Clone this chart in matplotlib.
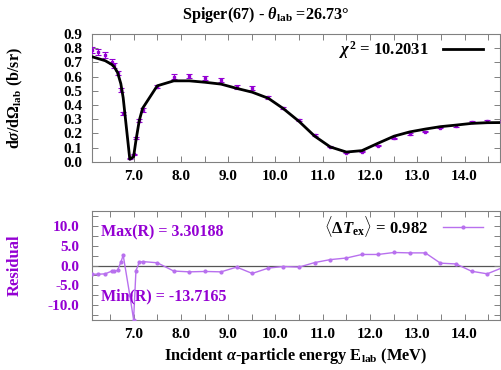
import matplotlib
matplotlib.use("Agg")
import matplotlib.pyplot as plt
from matplotlib.ticker import MultipleLocator, FormatStrFormatter

plt.rcParams['font.family'] = ['Liberation Serif', 'DejaVu Serif']
plt.rcParams['font.weight'] = 'bold'
plt.rcParams['mathtext.fontset'] = 'custom'
plt.rcParams['mathtext.rm'] = 'Liberation Serif:bold'
plt.rcParams['mathtext.it'] = 'Liberation Serif:italic'
plt.rcParams['mathtext.bf'] = 'Liberation Serif:bold'

# ---- data ----
energy = [6.12, 6.25, 6.40, 6.54, 6.59, 6.66, 6.73, 6.78, 6.92, 7.00, 7.05, 7.12, 7.19,
          7.50, 7.85, 8.18, 8.51, 8.85, 9.18, 9.51, 9.85, 10.16, 10.50, 10.83, 11.16,
          11.50, 11.83, 12.17, 12.51, 12.84, 13.17, 13.49, 13.82, 14.15, 14.48, 14.82]
xs_exp = [0.787, 0.771, 0.752, 0.705, 0.680, 0.623, 0.505, 0.340, 0.024, 0.052, 0.165, 0.290, 0.364,
          0.530, 0.600, 0.604, 0.588, 0.574, 0.526, 0.520, 0.454, 0.376, 0.292, 0.188, 0.105,
          0.063, 0.070, 0.113, 0.165, 0.195, 0.211, 0.240, 0.252, 0.278, 0.288, 0.285]
xs_err = [0.022, 0.020, 0.020, 0.018, 0.017, 0.015, 0.012, 0.010, 0.003, 0.003, 0.006, 0.010, 0.012,
          0.012, 0.016, 0.016, 0.015, 0.014, 0.012, 0.015, 0.010, 0.008, 0.007, 0.006, 0.004,
          0.003, 0.003, 0.004, 0.005, 0.005, 0.005, 0.005, 0.005, 0.006, 0.006, 0.006]
xs_theo = [0.740, 0.727, 0.712, 0.685, 0.668, 0.630, 0.550, 0.450, 0.017, 0.035, 0.150, 0.290, 0.376,
           0.535, 0.570, 0.570, 0.560, 0.547, 0.517, 0.490, 0.447, 0.376, 0.284, 0.180, 0.104,
           0.068, 0.078, 0.130, 0.180, 0.210, 0.230, 0.247, 0.258, 0.270, 0.275, 0.276]
residual = [-2.2, -2.2, -2.1, -1.4, -1.5, -1.2, 0.8, 2.6, -7.5, -13.7165, -1.3, 0.8, 1.0,
            0.7, -1.4, -1.6, -1.5, -1.6, -0.4, -2.0, -0.65, -0.25, -0.4, 0.75, 1.5,
            1.9, 2.8, 2.8, 3.30188, 3.2, 3.2, 0.6, 0.4, -1.45, -2.1, -0.45]

chi2_label = r'$\chi^2$ = 10.2031'
dtex_label = r'$\langle\Delta T_{\rm ex}\rangle$ = 0.982'
max_label = 'Max(R) = 3.30188'
min_label = 'Min(R) = -13.7165'
title = r'Spiger(67) - $\theta_{\rm lab}$ =26.73°'
ylabel_top = r'd$\sigma$/d$\Omega_{\rm lab}$ (b/sr)'
ylabel_bot = 'Residual'
xlabel = r'Incident $\alpha$-particle energy E$_{\rm lab}$ (MeV)'

purple = '#9400d3'
res_col = '#b870ee'
frame_col = '#808080'

fig = plt.figure(figsize=(5.01, 3.70), dpi=100)
ax1 = fig.add_axes([0.1836, 0.563, 0.8144, 0.345])
ax2 = fig.add_axes([0.1836, 0.135, 0.8144, 0.2947])

xlim = (6.12, 14.75)

# top panel
ax1.errorbar(energy, xs_exp, yerr=xs_err, fmt='s', ms=1.6, color=purple, ecolor=purple,
             elinewidth=0.8, capsize=2.4, capthick=0.8, zorder=3)
ax1.plot(energy, xs_theo, color='black', lw=2.0, label=chi2_label, zorder=4)
ax1.set_xlim(*xlim)
ax1.set_ylim(0, 0.9)
ax1.yaxis.set_major_locator(MultipleLocator(0.1))
ax1.yaxis.set_major_formatter(FormatStrFormatter('%.1f'))
ax1.xaxis.set_major_locator(MultipleLocator(1.0))
ax1.xaxis.set_minor_locator(MultipleLocator(0.5))
ax1.xaxis.set_major_formatter(FormatStrFormatter('%.1f'))
fig.text(266 / 501, 1 - 15 / 370, title, fontsize=11.7, fontweight='bold', ha='center', va='center')
ax1.set_ylabel(ylabel_top, fontsize=11.5, fontweight='bold')
ax1.yaxis.set_label_coords(-0.164, 0.5)
ax1.legend(loc='upper right', bbox_to_anchor=(0.975, 1.01), frameon=False, markerfirst=False,
           fontsize=12, handlelength=2.4, borderaxespad=0.0, handletextpad=0.9)

# bottom panel
ax2.axhline(0, color='#555555', lw=0.9, zorder=1)
ax2.plot(energy, residual, color=res_col, lw=1.0, marker='o', ms=2.0, label=dtex_label, zorder=3)
ax2.set_xlim(*xlim)
ax2.set_ylim(-13.8, 13.8)
ax2.yaxis.set_major_locator(MultipleLocator(5.0))
ax2.yaxis.set_minor_locator(MultipleLocator(2.5))
ax2.yaxis.set_major_formatter(FormatStrFormatter('%.1f'))
ax2.xaxis.set_major_locator(MultipleLocator(1.0))
ax2.xaxis.set_minor_locator(MultipleLocator(0.5))
ax2.xaxis.set_major_formatter(FormatStrFormatter('%.1f'))
ax2.set_ylabel(ylabel_bot, fontsize=12, fontweight='bold', color=purple)
ax2.yaxis.set_label_coords(-0.170, 0.5)
ax2.set_xlabel(xlabel, fontsize=11.8, fontweight='bold', labelpad=3)
ax2.legend(loc='upper right', bbox_to_anchor=(0.975, 1.035), frameon=False, markerfirst=False,
           fontsize=12, handlelength=2.4, borderaxespad=0.0, handletextpad=0.9)
ax2.text(0.022, 0.807, max_label, transform=ax2.transAxes, color=purple, fontsize=11.5,
         fontweight='bold', va='center', ha='left')
ax2.text(0.022, 0.214, min_label, transform=ax2.transAxes, color=purple, fontsize=11.5,
         fontweight='bold', va='center', ha='left')

for ax in (ax1, ax2):
    for sp in ax.spines.values():
        sp.set_color(frame_col)
        sp.set_linewidth(0.8)
    ax.tick_params(which='both', direction='in', top=True, right=True, color=frame_col,
                   labelsize=11, width=0.7)
    ax.tick_params(which='major', length=4)
    ax.tick_params(which='minor', length=4)
    for lab in ax.get_xticklabels() + ax.get_yticklabels():
        lab.set_fontweight('bold')

for lab in ax2.get_yticklabels():
    lab.set_color(purple)

ax1.tick_params(axis='y', pad=7)
ax2.tick_params(axis='y', pad=9)
ax1.tick_params(axis='x', pad=6)
ax2.tick_params(axis='x', pad=6)

fig.savefig('out.png', dpi=100)
